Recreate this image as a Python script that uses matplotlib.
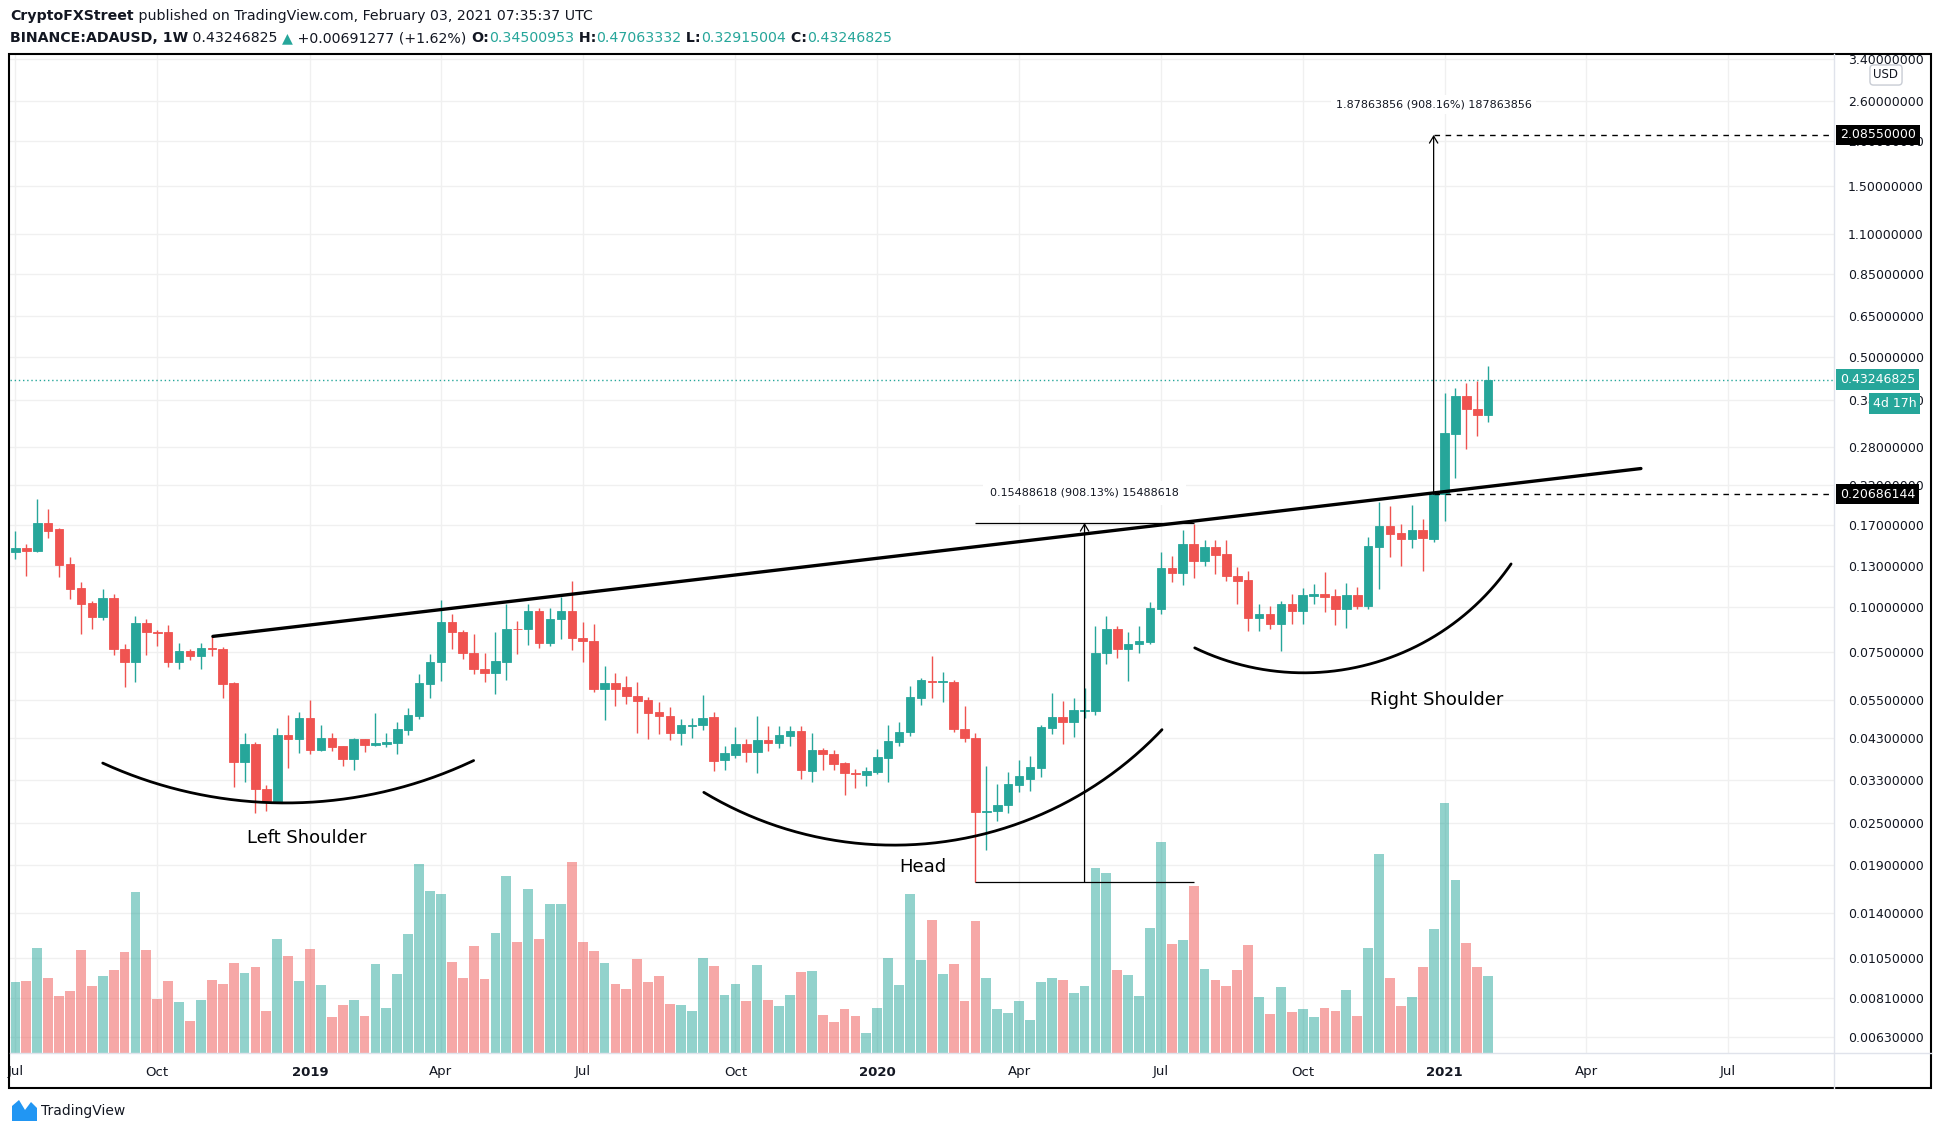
import numpy as np
import pandas as pd
import matplotlib
matplotlib.use("Agg")
import matplotlib.pyplot as plt
from matplotlib.patches import Rectangle, Polygon
from matplotlib.ticker import FixedLocator, FixedFormatter, NullLocator
from matplotlib.transforms import Bbox

W, H = 1938, 1135
plt.rcParams['font.family'] = ['DejaVu Sans']

# BINANCE:ADAUSD weekly candles, first bar = week of 2018-07-02
opens = [0.1431, 0.1462, 0.1437, 0.1719, 0.1654, 0.1318, 0.1129, 0.1025, 0.0938, 0.1059,
         0.0766, 0.0701, 0.0906, 0.0855, 0.0851, 0.0701, 0.0754, 0.0729, 0.0769, 0.0766,
         0.0615, 0.0369, 0.0414, 0.0310, 0.0285, 0.0441, 0.0428, 0.0490, 0.0399, 0.0430,
         0.0409, 0.0377, 0.0428, 0.0412, 0.0416, 0.0418, 0.0454, 0.0498, 0.0612, 0.0701,
         0.0912, 0.0855, 0.0746, 0.0673, 0.0653, 0.0705, 0.0871, 0.0868, 0.0973, 0.0793,
         0.0926, 0.0973, 0.0822, 0.0806, 0.0591, 0.0615, 0.0599, 0.0565, 0.0551, 0.0509,
         0.0496, 0.0446, 0.0466, 0.0469, 0.0493, 0.0374, 0.0387, 0.0414, 0.0394, 0.0425,
         0.0418, 0.0437, 0.0451, 0.0348, 0.0398, 0.0388, 0.0366, 0.0345, 0.0339, 0.0346,
         0.0379, 0.0420, 0.0449, 0.0559, 0.0621, 0.0617, 0.0620, 0.0456, 0.0430, 0.0268,
         0.0270, 0.0280, 0.0318, 0.0332, 0.0355, 0.0461, 0.0493, 0.0479, 0.0514, 0.0514,
         0.0743, 0.0872, 0.0766, 0.0788, 0.0801, 0.0988, 0.1285, 0.1244, 0.1501, 0.1347,
         0.1472, 0.1407, 0.1225, 0.1189, 0.0932, 0.0960, 0.0896, 0.1024, 0.0975, 0.1077,
         0.1086, 0.1074, 0.0988, 0.1079, 0.1011, 0.1472, 0.1682, 0.1611, 0.1553, 0.1643,
         0.1554, 0.2069, 0.3047, 0.3886, 0.3580, 0.34500953]
highs = [0.1629, 0.1500, 0.2008, 0.1882, 0.1665, 0.1379, 0.1178, 0.1043, 0.1122, 0.1087,
         0.0790, 0.0947, 0.0930, 0.0866, 0.0894, 0.0795, 0.0766, 0.0792, 0.0829, 0.0775,
         0.0620, 0.0446, 0.0419, 0.0318, 0.0461, 0.0500, 0.0510, 0.0550, 0.0470, 0.0444,
         0.0410, 0.0431, 0.0428, 0.0506, 0.0444, 0.0477, 0.0524, 0.0651, 0.0739, 0.1050,
         0.0956, 0.0866, 0.0840, 0.0746, 0.0851, 0.1024, 0.0914, 0.1018, 0.0996, 0.0996,
         0.1070, 0.1184, 0.0910, 0.0900, 0.0683, 0.0656, 0.0644, 0.0617, 0.0560, 0.0543,
         0.0527, 0.0487, 0.0490, 0.0570, 0.0510, 0.0409, 0.0462, 0.0428, 0.0496, 0.0465,
         0.0465, 0.0465, 0.0465, 0.0446, 0.0405, 0.0399, 0.0369, 0.0354, 0.0357, 0.0401,
         0.0468, 0.0478, 0.0604, 0.0636, 0.0732, 0.0658, 0.0627, 0.0531, 0.0445, 0.0360,
         0.0321, 0.0346, 0.0374, 0.0384, 0.0469, 0.0575, 0.0548, 0.0558, 0.0595, 0.0885,
         0.0944, 0.0885, 0.0853, 0.0885, 0.1031, 0.1425, 0.1386, 0.1639, 0.1712, 0.1544,
         0.1537, 0.1537, 0.1293, 0.1266, 0.1018, 0.1009, 0.1042, 0.1086, 0.1134, 0.1159,
         0.1257, 0.1122, 0.1166, 0.1141, 0.1570, 0.1965, 0.1915, 0.1712, 0.1936, 0.1764,
         0.2100, 0.3963, 0.4093, 0.4227, 0.4282, 0.47063332]
lows = [0.1365, 0.1222, 0.1422, 0.1560, 0.1212, 0.1054, 0.0840, 0.0868, 0.0920, 0.0734,
        0.0600, 0.0620, 0.0736, 0.0777, 0.0679, 0.0673, 0.0714, 0.0673, 0.0729, 0.0559,
        0.0315, 0.0325, 0.0266, 0.0269, 0.0285, 0.0355, 0.0392, 0.0388, 0.0397, 0.0397,
        0.0361, 0.0350, 0.0395, 0.0410, 0.0407, 0.0388, 0.0439, 0.0487, 0.0559, 0.0624,
        0.0762, 0.0716, 0.0649, 0.0620, 0.0571, 0.0628, 0.0738, 0.0782, 0.0769, 0.0779,
        0.0817, 0.0758, 0.0701, 0.0581, 0.0485, 0.0531, 0.0536, 0.0446, 0.0428, 0.0442,
        0.0426, 0.0412, 0.0431, 0.0454, 0.0348, 0.0352, 0.0378, 0.0369, 0.0344, 0.0396,
        0.0405, 0.0410, 0.0332, 0.0324, 0.0351, 0.0352, 0.0298, 0.0312, 0.0316, 0.0342,
        0.0324, 0.0410, 0.0437, 0.0534, 0.0559, 0.0545, 0.0447, 0.0419, 0.01706, 0.0210,
        0.0253, 0.0267, 0.0305, 0.0306, 0.0335, 0.0442, 0.0414, 0.0434, 0.0491, 0.0501,
        0.0692, 0.0722, 0.0624, 0.0743, 0.0788, 0.0956, 0.1174, 0.1153, 0.1204, 0.1307,
        0.1236, 0.1184, 0.1020, 0.0857, 0.0857, 0.0872, 0.0757, 0.0900, 0.0896, 0.1018,
        0.0967, 0.0891, 0.0874, 0.0988, 0.0986, 0.1124, 0.1380, 0.1305, 0.1462, 0.1266,
        0.1521, 0.1746, 0.2291, 0.2764, 0.3007, 0.32915004]
closes = [0.1462, 0.1437, 0.1719, 0.1636, 0.1313, 0.1124, 0.1020, 0.0938, 0.1059, 0.0762,
          0.0701, 0.0906, 0.0851, 0.0846, 0.0701, 0.0754, 0.0729, 0.0771, 0.0762, 0.0612,
          0.0369, 0.0414, 0.0310, 0.0285, 0.0441, 0.0428, 0.0490, 0.0399, 0.0430, 0.0407,
          0.0377, 0.0428, 0.0412, 0.0417, 0.0420, 0.0456, 0.0500, 0.0615, 0.0704, 0.0912,
          0.0851, 0.0743, 0.0670, 0.0653, 0.0709, 0.0871, 0.0868, 0.0973, 0.0793, 0.0930,
          0.0973, 0.0819, 0.0803, 0.0591, 0.0615, 0.0591, 0.0566, 0.0547, 0.0507, 0.0497,
          0.0446, 0.0468, 0.0468, 0.0490, 0.0372, 0.0391, 0.0414, 0.0394, 0.0425, 0.0418,
          0.0440, 0.0451, 0.0351, 0.0398, 0.0389, 0.0364, 0.0344, 0.0342, 0.0348, 0.0381,
          0.0422, 0.0448, 0.0561, 0.0627, 0.0617, 0.0621, 0.0458, 0.0430, 0.0268, 0.0270,
          0.0281, 0.0320, 0.0337, 0.0357, 0.0462, 0.0493, 0.0479, 0.0516, 0.0517, 0.0746,
          0.0872, 0.0766, 0.0791, 0.0806, 0.0992, 0.1285, 0.1247, 0.1501, 0.1347, 0.1472,
          0.1401, 0.1223, 0.1184, 0.0932, 0.0960, 0.0896, 0.1024, 0.0975, 0.1079, 0.1086,
          0.1070, 0.0988, 0.1079, 0.1007, 0.1478, 0.1682, 0.1604, 0.1553, 0.1643, 0.1560,
          0.2069, 0.3059, 0.3886, 0.3580, 0.3450, 0.43246825]
volumes = [71, 72, 105, 75, 57, 62, 103, 67, 77, 83, 101, 161, 103, 54, 72, 51, 32, 53, 73, 69,
           90, 80, 86, 42, 114, 97, 72, 104, 68, 36, 48, 53, 37, 89, 45, 79, 119, 189, 162, 159,
           91, 75, 107, 74, 120, 177, 111, 164, 114, 149, 149, 191, 111, 102, 90, 69, 64, 94, 71, 77,
           49, 48, 42, 95, 87, 58, 69, 52, 88, 53, 47, 58, 81, 82, 38, 31, 44, 37, 20, 45,
           95, 68, 159, 93, 133, 79, 89, 52, 132, 75, 44, 40, 52, 33, 71, 75, 73, 60, 67, 185,
           180, 83, 78, 57, 125, 211, 109, 113, 167, 84, 73, 67, 83, 108, 56, 39, 66, 41, 44, 36,
           45, 42, 63, 37, 105, 199, 75, 47, 56, 86, 124, 250, 173, 110, 86, 77]

price_ticks = [3.4, 2.6, 2.0, 1.5, 1.1, 0.85, 0.65, 0.5, 0.38, 0.28, 0.22, 0.17, 0.13, 0.10,
               0.075, 0.055, 0.043, 0.033, 0.025, 0.019, 0.014, 0.0105, 0.0081, 0.0063]

last_price = 0.43246825
neck_level = 0.20686144
target_level = 2.0855
head_low, head_top = 0.01706, 0.17194
head_text = "0.15488618 (908.13%) 15488618"
target_text = "1.87863856 (908.16%) 187863856"

# drawings: (bar index, price)
neckline = [(18.1, 0.0829), (149.0, 0.244)]
left_arc = [(8.0, 0.0367), (24.9, 0.0284), (42.0, 0.0373)]
head_arc = [(63.1, 0.0304), (81.7, 0.02168), (105.1, 0.0455)]
right_arc = [(108.1, 0.0770), (119.9, 0.0659), (137.1, 0.1321)]
pattern_labels = [("Left Shoulder", 26.7, 0.02267), ("Head", 83.2, 0.01881),
                  ("Right Shoulder", 130.3, 0.05506)]

UP, DOWN, INK = "#26a69a", "#ef5350", "#131722"
GRID = "#f0f0f0"

n = len(closes)
x = np.arange(n)
weeks = pd.date_range("2018-07-02", periods=167, freq="W-MON")
xmin, xmax = -0.5, 166.7
ymin, ymax = 0.005686, 3.51

fig = plt.figure(figsize=(W / 100, H / 100), dpi=100)
fig.patch.set_facecolor("white")


def fx(px):
    return px / W


def fy(py):
    return 1 - py / H


rect = [fx(10), fy(1053), (1834 - 10) / W, (1053 - 54) / H]
axg = fig.add_axes(rect, zorder=0)
axv = fig.add_axes(rect, sharex=axg, zorder=1)
ax = fig.add_axes(rect, sharex=axg, zorder=2)
for a in (axv, ax):
    a.patch.set_visible(False)
for a in (axg, axv, ax):
    for s in a.spines.values():
        s.set_visible(False)

# x ticks at the first bar of each quarter
tick_pos, tick_lab = [0], ["Jul"]
for i in range(1, len(weeks)):
    m = weeks[i].month
    if m != weeks[i - 1].month and m in (1, 4, 7, 10):
        tick_pos.append(i)
        tick_lab.append(str(weeks[i].year) if m == 1 else weeks[i].strftime("%b"))

for a in (axg, ax):
    a.set_yscale("log")
    a.set_ylim(ymin, ymax)
    a.yaxis.set_major_locator(FixedLocator(price_ticks))
    a.yaxis.set_minor_locator(NullLocator())
axg.set_xlim(xmin, xmax)
axg.set_xticks(tick_pos)
axg.set_xticklabels(tick_lab)
axg.grid(True, color=GRID, lw=1)
axg.tick_params(axis="x", length=0, pad=9, labelsize=9.5, labelcolor=INK)
axg.tick_params(axis="y", length=0, labelleft=False)
for t in axg.get_xticklabels():
    if t.get_text().isdigit():
        t.set_fontweight("bold")

axv.tick_params(left=False, labelleft=False, bottom=False, labelbottom=False)
ax.tick_params(axis="x", bottom=False, labelbottom=False)
ax.yaxis.tick_right()
ax.yaxis.set_major_formatter(FixedFormatter([f"{v:.8f}" for v in price_ticks]))
ax.tick_params(axis="y", length=0, pad=10, labelsize=9, labelcolor=INK)

# price labels are cut at the top of the frame
scale_box = Bbox.from_extents(1834, H - 1053, 1931, H - 55)
for t in ax.yaxis.get_major_ticks():
    t.label2.set_clip_on(True)
    t.label2.set_clip_box(scale_box)

# volume
vcol = [UP if c >= o else DOWN for o, c in zip(opens, closes)]
axv.bar(x, volumes, width=0.9, color=vcol, alpha=0.5, linewidth=0)
axv.set_ylim(0, max(volumes) / 0.25)

# candles
o, c = np.array(opens), np.array(closes)
lo, hi = np.minimum(o, c), np.maximum(o, c)
ax.vlines(x, lows, highs, color=vcol, lw=1.0, zorder=3)
ax.bar(x, hi - lo, bottom=lo, width=0.78, color=vcol, edgecolor=vcol, linewidth=0.6, zorder=4)

# last price line
ax.axhline(last_price, color=UP, lw=1, ls=(0, (1, 2)), zorder=2)

# neckline
ax.plot([p[0] for p in neckline], [p[1] for p in neckline], color="black", lw=2.4,
        solid_capstyle="round", zorder=6)


def arc3(a, pts, **kw):
    P = a.transData.transform(np.array(pts))
    (x1, y1), (x2, y2), (x3, y3) = P
    d = 2 * (x1 * (y2 - y3) + x2 * (y3 - y1) + x3 * (y1 - y2))
    s1, s2, s3 = x1 ** 2 + y1 ** 2, x2 ** 2 + y2 ** 2, x3 ** 2 + y3 ** 2
    ux = (s1 * (y2 - y3) + s2 * (y3 - y1) + s3 * (y1 - y2)) / d
    uy = (s1 * (x3 - x2) + s2 * (x1 - x3) + s3 * (x2 - x1)) / d
    r = np.hypot(x1 - ux, y1 - uy)
    t = np.linspace(np.arctan2(y1 - uy, x1 - ux), np.arctan2(y3 - uy, x3 - ux), 150)
    pts_d = a.transData.inverted().transform(np.column_stack([ux + r * np.cos(t), uy + r * np.sin(t)]))
    a.plot(pts_d[:, 0], pts_d[:, 1], **kw)


for arc in (left_arc, head_arc, right_arc):
    arc3(ax, arc, color="black", lw=2.0, zorder=6, solid_capstyle="round")

for txt, bx, by in pattern_labels:
    ax.text(bx, by, txt, ha="center", va="center", fontsize=13, color="black", zorder=7)

# head measurement
ax.hlines([head_low, head_top], 88, 108, color="black", lw=0.9, zorder=6)
ax.annotate("", xy=(98, head_top), xytext=(98, head_low),
            arrowprops=dict(arrowstyle="->,head_length=0.5,head_width=0.3", lw=0.9,
                            color="black", shrinkA=0, shrinkB=0), zorder=6)
ax.annotate(head_text, xy=(98, head_top), xytext=(0, 30), textcoords="offset pixels",
            ha="center", va="center", fontsize=8, color=INK, zorder=8,
            bbox=dict(fc="white", ec="none", boxstyle="square,pad=0.6"))

# target measurement
ax.hlines([target_level, neck_level], 130, xmax, color="black", lw=1, ls=(0, (4, 4)), zorder=6)
ax.annotate("", xy=(130, target_level), xytext=(130, neck_level),
            arrowprops=dict(arrowstyle="->,head_length=0.5,head_width=0.3", lw=0.9,
                            color="black", shrinkA=0, shrinkB=0), zorder=6)
ax.annotate(target_text, xy=(130, target_level), xytext=(0, 30),
            textcoords="offset pixels", ha="center", va="center", fontsize=8, color=INK,
            zorder=8, bbox=dict(fc="white", ec="none", boxstyle="square,pad=0.4"))


# price scale badges
def badge(price, text, fc, dx=6, dy=0):
    ax.annotate(text, xy=(1, price), xycoords=("axes fraction", "data"), xytext=(dx, dy),
                textcoords="offset pixels", ha="left", va="center", fontsize=9, color="white",
                annotation_clip=False, zorder=10,
                bbox=dict(fc=fc, ec="none", boxstyle="square,pad=0.3"))


badge(target_level, f"{target_level:.8f}", "black")
badge(neck_level, f"{neck_level:.8f}", "black")
badge(last_price, f"{last_price:.8f}", UP)
badge(last_price, "4d 17h", UP, dx=39, dy=-24)

fig.text(fx(1886), fy(75), "USD", ha="center", va="center", fontsize=8.5, color=INK,
         bbox=dict(fc="white", ec="#c8ccd4", boxstyle="round,pad=0.3"))

# separators and frame
fig.add_artist(plt.Line2D([fx(10), fx(1931)], [fy(1053), fy(1053)], color="#e0e3eb", lw=1))
fig.add_artist(plt.Line2D([fx(1834), fx(1834)], [fy(54), fy(1088)], color="#e0e3eb", lw=1))
fig.add_artist(Rectangle((fx(9), fy(1088)), fx(1931) - fx(9), fy(54) - fy(1088), fill=False,
                         ec="black", lw=1.5, transform=fig.transFigure))


# header
def rich(px, py, parts, size):
    r = fig.canvas.get_renderer()
    for s, col, bold in parts:
        t = fig.text(fx(px), fy(py), s, color=col, fontsize=size, va="center", ha="left",
                     fontweight="bold" if bold else "normal")
        px += t.get_window_extent(r).width


rich(10, 16, [("CryptoFXStreet", INK, True),
              (" published on TradingView.com, February 03, 2021 07:35:37 UTC", INK, False)], 10.2)
rich(10, 38, [("BINANCE:ADAUSD, 1W", INK, True), (" 0.43246825 ", INK, False), ("▲", UP, False),
              (" +0.00691277 (+1.62%) ", INK, False), ("O:", INK, True), ("0.34500953", UP, False),
              (" H:", INK, True), ("0.47063332", UP, False), (" L:", INK, True),
              ("0.32915004", UP, False), (" C:", INK, True), ("0.43246825", UP, False)], 10.2)

# footer logo
fig.add_artist(Polygon([(fx(12), fy(1121)), (fx(12), fy(1106)), (fx(19), fy(1100)),
                        (fx(25), fy(1110)), (fx(31), fy(1102)), (fx(37), fy(1108)),
                        (fx(37), fy(1121))], closed=True, fc="#2196f3", ec="none",
                       transform=fig.transFigure))
fig.text(fx(41), fy(1111), "TradingView", fontsize=10, color=INK, va="center", ha="left")

fig.savefig("out.png", dpi=100)
